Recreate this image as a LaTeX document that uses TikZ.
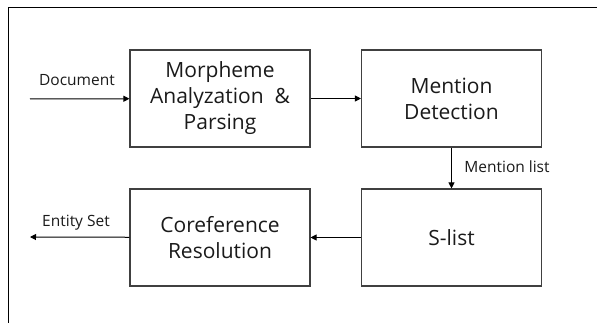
\documentclass[tikz,border=0pt]{standalone}
\usepackage{fontspec}
\setmainfont{Open Sans}
\usetikzlibrary{arrows.meta}
\definecolor{boxline}{HTML}{404040}
\definecolor{txt}{HTML}{1A1A1A}
\begin{document}
\begin{tikzpicture}
  [x=1pt,y=-1pt,
   box/.style={draw=boxline,line width=1.1pt,minimum width=180pt,minimum height=97pt,
     align=center,inner sep=0pt,text=txt,font=\fontsize{21}{26}\selectfont},
   lbl/.style={inner sep=0pt,text=txt,font=\fontsize{15.5}{18}\selectfont},
   flow/.style={line width=1pt,-{Triangle[length=6pt,width=6pt]}}]
  \useasboundingbox (0,0) rectangle (597,323);
  \draw[line width=1pt] (8,323) -- (8,8) -- (597,8);

  \node (morph)[box] at (220,98.5) {Morpheme\\Analyzation \ \&\\Parsing};
  \node (mention)[box] at (451.5,98.5) {Mention\\Detection};
  \node (coref)[box] at (220,237.5) {Coreference\\Resolution};
  \node (slist)[box] at (451.5,237.5) {S-list};

  \coordinate (docin) at (30,99);
  \coordinate (entout) at (30,237);

  \node (doclbl)[lbl] at (77,80) {Document};
  \node (mlistlbl)[lbl] at (507,167) {Mention list};
  \node (entlbl)[lbl] at (76,223) {Entity Set};

  \foreach \from/\to in {docin/morph,morph/mention,slist/coref,coref/entout}
    \draw[flow] (\from) -- (\to);
  \draw[flow] (mention) -- (slist);

\end{tikzpicture}
\end{document}
